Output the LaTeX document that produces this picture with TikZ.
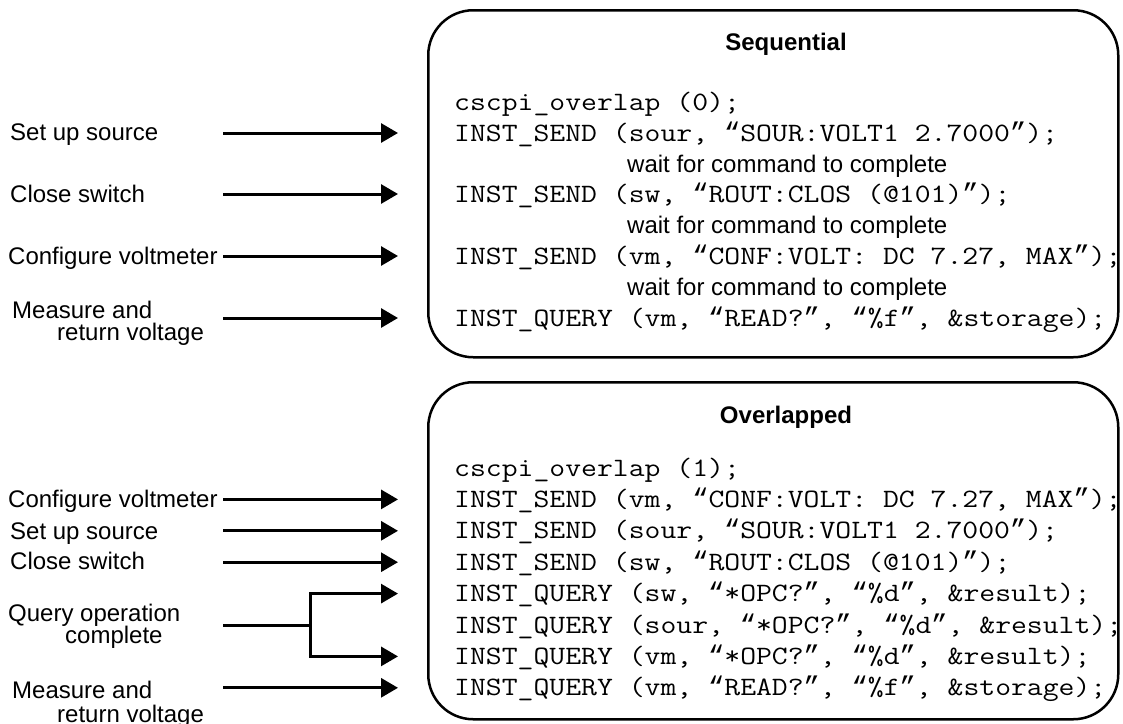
\documentclass[tikz,border=0pt]{standalone}
\usepackage{fontspec}
\setmainfont{Liberation Sans}
\setmonofont{Latin Modern Mono}[FakeStretch=1.163]
\newfontfamily\quotefont{Liberation Mono}[Scale=1.02]
\newcommand{\oq}{{\quotefont “}}
\newcommand{\cq}{{\quotefont ”}}
\usetikzlibrary{
    arrows.meta,
    positioning
}
\tikzset{
    panel/.style={draw, line width=2.5pt, rounded corners=45pt, anchor=north west, inner sep=0pt},
    codeline/.style={anchor=west, inner sep=0pt, text height=16pt, text depth=0pt, font=\fontsize{26.5}{30}\selectfont\ttfamily},
    lbl/.style={anchor=west, inner sep=0pt, text height=17pt, text depth=0pt, font=\fontsize{24}{28}\selectfont},
    ttl/.style={anchor=base, inner sep=0pt, font=\fontsize{24}{28}\selectfont\bfseries},
    arr/.style={line width=3pt, -{Triangle[length=17pt,width=19pt]}},
    wire/.style={line width=3pt},
}

\begin{document}
\begin{tikzpicture}[x=1pt, y=-1pt]
    \useasboundingbox (0,0) rectangle (1123,723);
    \coordinate (tailx) at (223,0);
    \coordinate (tipx) at (398,0);
    \coordinate (forkx) at (310,0);

    \begin{scope}
        % sequential panel
        \node[panel, minimum width=690pt, minimum height=347pt] (seqbox) at (427,9) {};
        \node[ttl] (seqttl) at (786,50.5) {Sequential};
        \node[codeline] (seqovl) at (454,102) {cscpi\_overlap (0);};
        \node[codeline] (seqsrc) at (454,133) {INST\_SEND (sour, \oq SOUR:VOLT1 2.7000\cq);};
        \node[lbl] (seqw1) at (627,164) {wait for command to complete};
        \node[codeline] (seqsw) at (454,194) {INST\_SEND (sw, \oq ROUT:CLOS (@101)\cq);};
        \node[lbl] (seqw2) at (627,225) {wait for command to complete};
        \node[codeline] (seqvm) at (454,256) {INST\_SEND (vm, \oq CONF:VOLT: DC 7.27, MAX\cq);};
        \node[lbl] (seqw3) at (627,287) {wait for command to complete};
        \node[codeline] (seqread) at (454,318) {INST\_QUERY (vm, \oq READ?\cq, \oq\%f\cq, \&storage);};
        % sequential labels
        \node[lbl] (lsrc1) at (10,132) {Set up source};
        \node[lbl] (lsw1) at (10,194) {Close switch};
        \node[lbl] (lcfg1) at (8,256) {Configure voltmeter};
        \node[lbl] (lmsr1) at (12,310) {Measure and};
        \node[lbl] (lmsr1b) at (57,332) {return voltage};
        \draw[arr] (seqsrc.west -| tailx) -- (seqsrc.west -| tipx);
        \draw[arr] (seqsw.west -| tailx) -- (seqsw.west -| tipx);
        \draw[arr] (seqvm.west -| tailx) -- (seqvm.west -| tipx);
        \draw[arr] (seqread.west -| tailx) -- (seqread.west -| tipx);
    \end{scope}

    \begin{scope}
        % overlapped panel
        \node[panel, minimum width=690pt, minimum height=337pt] (ovlbox) at (427,381) {};
        \node[ttl] (ovlttl) at (786,423.5) {Overlapped};
        \node[codeline] (ovlovl) at (454,468) {cscpi\_overlap (1);};
        \node[codeline] (ovlvm) at (454,499.4) {INST\_SEND (vm, \oq CONF:VOLT: DC 7.27, MAX\cq);};
        \node[codeline] (ovlsrc) at (454,530.8) {INST\_SEND (sour, \oq SOUR:VOLT1 2.7000\cq);};
        \node[codeline] (ovlsw) at (454,562.2) {INST\_SEND (sw, \oq ROUT:CLOS (@101)\cq);};
        \node[codeline] (ovlq1) at (454,593.6) {INST\_QUERY (sw, \oq*OPC?\cq, \oq\%d\cq, \&result);};
        \node[codeline] (ovlq2) at (454,625) {INST\_QUERY (sour, \oq*OPC?\cq, \oq\%d\cq, \&result);};
        \node[codeline] (ovlq3) at (454,656.4) {INST\_QUERY (vm, \oq*OPC?\cq, \oq\%d\cq, \&result);};
        \node[codeline] (ovlread) at (454,687.8) {INST\_QUERY (vm, \oq READ?\cq, \oq\%f\cq, \&storage);};
        % overlapped labels
        \node[lbl] (lcfg2) at (8,499) {Configure voltmeter};
        \node[lbl] (lsrc2) at (10,531) {Set up source};
        \node[lbl] (lsw2) at (10,561) {Close switch};
        \node[lbl] (lqop) at (8,613) {Query operation};
        \node[lbl] (lqopb) at (65,635) {complete};
        \node[lbl] (lmsr2) at (12,690) {Measure and};
        \node[lbl] (lmsr2b) at (57,714) {return voltage};
        \draw[arr] (ovlvm.west -| tailx) -- (ovlvm.west -| tipx);
        \draw[arr] (ovlsrc.west -| tailx) -- (ovlsrc.west -| tipx);
        \draw[arr] (ovlsw.west -| tailx) -- (ovlsw.west -| tipx);
        \draw[wire] (ovlq2.west -| tailx) -- (ovlq2.west -| forkx);
        \draw[arr] (ovlq2.west -| forkx) |- (ovlq1.west -| tipx);
        \draw[arr] (ovlq2.west -| forkx) |- (ovlq3.west -| tipx);
        \draw[arr] (ovlread.west -| tailx) -- (ovlread.west -| tipx);
    \end{scope}
\end{tikzpicture}
\end{document}
